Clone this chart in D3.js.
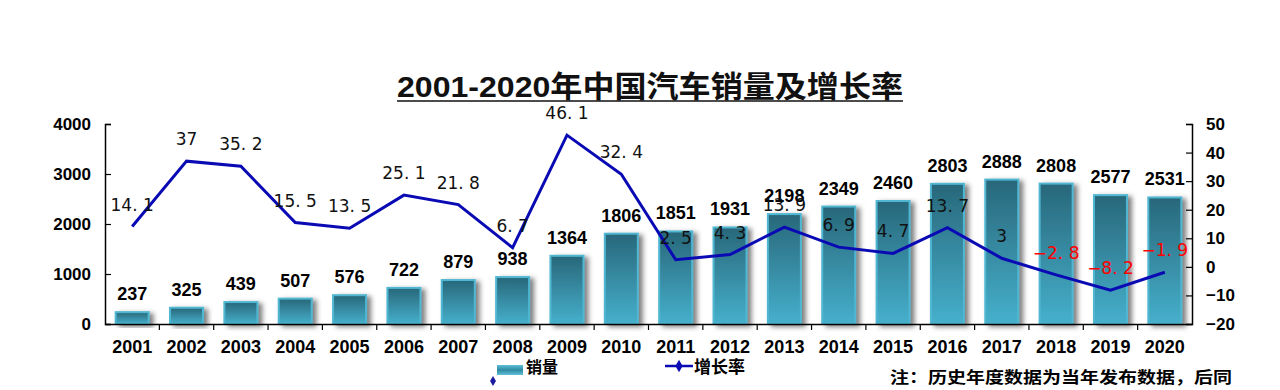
<!DOCTYPE html>
<html>
<head>
<meta charset="utf-8">
<script src="https://cdn.jsdelivr.net/npm/d3@7"></script>
<style>
  body { margin: 0; background: #fff; }
  svg { display: block; }
  .bold { font-family: Arial, "Liberation Sans", "Noto Sans CJK SC", sans-serif; font-weight: bold; }
</style>
</head>
<body>
<div id="chart"></div>
<script>
var years = ['2001','2002','2003','2004','2005','2006','2007','2008','2009','2010',
             '2011','2012','2013','2014','2015','2016','2017','2018','2019','2020'];
var sales = [237, 325, 439, 507, 576, 722, 879, 938, 1364, 1806,
             1851, 1931, 2198, 2349, 2460, 2803, 2888, 2808, 2577, 2531];
var growth = [14.1, 37, 35.2, 15.5, 13.5, 25.1, 21.8, 6.7, 46.1, 32.4,
              2.5, 4.3, 13.9, 6.9, 4.7, 13.7, 3, -2.8, -8.2, -1.9];
var leftTicks = [0, 1000, 2000, 3000, 4000];
var rightTicks = [-20, -10, 0, 10, 20, 30, 40, 50];

var width = 1280, height = 390,
    margin = {top: 124, right: 88, bottom: 66, left: 105};

var svg = d3.select('#chart').append('svg')
    .attr('width', width)
    .attr('height', height);

var defs = svg.append('defs');
var grad = defs.append('linearGradient')
    .attr('id', 'bar-grad')
    .attr('x1', 0).attr('y1', 0).attr('x2', 0).attr('y2', 1);
grad.append('stop').attr('offset', 0).attr('stop-color', '#28677a');
grad.append('stop').attr('offset', 1).attr('stop-color', '#46b0cc');

var lgrad = defs.append('linearGradient')
    .attr('id', 'leg-grad')
    .attr('x1', 0).attr('y1', 0).attr('x2', 0).attr('y2', 1);
lgrad.append('stop').attr('offset', 0).attr('stop-color', '#5fc0d8');
lgrad.append('stop').attr('offset', 0.5).attr('stop-color', '#2f8aa2');
lgrad.append('stop').attr('offset', 1).attr('stop-color', '#5fc0d8');

var shadow = defs.append('filter').attr('id', 'shadow')
    .attr('x', '-30%').attr('y', '-30%').attr('width', '160%').attr('height', '160%');
shadow.append('feDropShadow')
    .attr('dx', 4).attr('dy', 2).attr('stdDeviation', 2.5)
    .attr('flood-color', '#555').attr('flood-opacity', 0.75);

var x = d3.scaleBand()
    .domain(years)
    .range([margin.left, width - margin.right]);

var yL = d3.scaleLinear()
    .domain([0, 4000])
    .range([height - margin.bottom, margin.top]);

var yR = d3.scaleLinear()
    .domain([-20, 50])
    .range([height - margin.bottom, margin.top]);

// title
svg.append('text')
    .attr('class', 'bold')
    .attr('x', 650).attr('y', 97)
    .attr('text-anchor', 'middle')
    .attr('font-size', 30)
    .attr('textLength', 506)
    .attr('lengthAdjust', 'spacingAndGlyphs')
    .attr('fill', '#111')
    .text('2001-2020年中国汽车销量及增长率');
svg.append('line')
    .attr('x1', 397).attr('x2', 903)
    .attr('y1', 101).attr('y2', 101)
    .attr('stroke', '#111').attr('stroke-width', 1.5);

// bars
var barW = 33;
svg.append('g').selectAll('rect')
  .data(sales)
  .enter().append('rect')
    .attr('x', function(d, i) { return x(years[i]) + x.bandwidth() / 2 - barW / 2; })
    .attr('y', function(d) { return yL(d); })
    .attr('width', barW)
    .attr('height', function(d) { return yL(0) - yL(d); })
    .attr('fill', 'url(#bar-grad)')
    .attr('stroke', '#50b7d2')
    .attr('stroke-width', 2)
    .attr('filter', 'url(#shadow)');

// axes
var axisL = svg.append('g')
    .attr('transform', 'translate(' + margin.left + ',0)')
    .call(d3.axisLeft(yL).tickValues(leftTicks).tickFormat(d3.format('d')).tickSize(-6).tickPadding(14));
var axisR = svg.append('g')
    .attr('transform', 'translate(' + (width - margin.right) + ',0)')
    .call(d3.axisRight(yR).tickValues(rightTicks).tickFormat(d3.format('d')).tickSize(-6).tickPadding(14));
var axisB = svg.append('g')
    .attr('transform', 'translate(0,' + yL(0) + ')')
    .call(d3.axisBottom(x).tickSize(0).tickPadding(16));

[axisL, axisR, axisB].forEach(function(a) {
  a.select('.domain').attr('stroke', '#000').attr('stroke-width', 1.5);
  a.selectAll('.tick line').attr('stroke', '#000').attr('stroke-width', 1.2);
  a.selectAll('text')
    .attr('class', 'bold')
    .attr('font-size', 17)
    .attr('fill', '#000');
});
axisB.selectAll('text')
    .attr('font-family', '"Liberation Sans Narrow", Arial, sans-serif')
    .attr('font-size', 18);

// band boundary ticks on x axis
axisB.selectAll('.sep')
  .data(years.slice(1))
  .enter().append('line')
    .attr('x1', function(d) { return x(d); })
    .attr('x2', function(d) { return x(d); })
    .attr('y1', 0).attr('y2', 6)
    .attr('stroke', '#000').attr('stroke-width', 1.2);

// sales labels
svg.append('g').selectAll('text')
  .data(sales)
  .enter().append('text')
    .attr('class', 'bold')
    .attr('x', function(d, i) { return x(years[i]) + x.bandwidth() / 2; })
    .attr('y', function(d) { return yL(d) - 12; })
    .attr('text-anchor', 'middle')
    .attr('font-size', 18)
    .attr('fill', '#000')
    .text(function(d) { return d; });

// growth line
var line = d3.line()
    .x(function(d, i) { return x(years[i]) + x.bandwidth() / 2; })
    .y(function(d) { return yR(d); });

svg.append('path')
    .datum(growth)
    .attr('d', line)
    .attr('fill', 'none')
    .attr('stroke', '#0a0ab4')
    .attr('stroke-width', 3);

// growth labels
svg.append('g').selectAll('text')
  .data(growth)
  .enter().append('text')
    .attr('x', function(d, i) { return x(years[i]) + x.bandwidth() / 2; })
    .attr('y', function(d) { return yR(d) - 16; })
    .attr('text-anchor', 'middle')
    .attr('font-family', '"DejaVu Sans", sans-serif')
    .attr('font-size', 17)
    .attr('fill', function(d) { return d < 0 ? '#ff0000' : '#111'; })
    .text(function(d) {
      return String(d).replace('-', '−').replace('.', '. ');
    });

// legend
var lg = svg.append('g');
lg.append('rect')
    .attr('x', 497).attr('y', 365).attr('width', 26).attr('height', 10)
    .attr('fill', 'url(#leg-grad)');
lg.append('path')
    .attr('d', d3.symbol().type(d3.symbolDiamond).size(30))
    .attr('transform', 'translate(493,381)')
    .attr('fill', '#1a1aa0');
lg.append('text')
    .attr('class', 'bold')
    .attr('x', 526).attr('y', 373)
    .attr('font-size', 16)
    .text('销量');
lg.append('line')
    .attr('x1', 665).attr('x2', 693).attr('y1', 366).attr('y2', 366)
    .attr('stroke', '#0a0ab4').attr('stroke-width', 2.5);
lg.append('path')
    .attr('d', d3.symbol().type(d3.symbolDiamond).size(44))
    .attr('transform', 'translate(679,366)')
    .attr('fill', '#0a0ab4');
lg.append('text')
    .attr('class', 'bold')
    .attr('x', 694).attr('y', 373)
    .attr('font-size', 17)
    .text('增长率');

svg.append('text')
    .attr('x', 890).attr('y', 383)
    .attr('font-family', '"Noto Sans CJK SC", sans-serif')
    .attr('font-weight', 'bold')
    .attr('font-size', 16)
    .attr('textLength', 342)
    .attr('lengthAdjust', 'spacingAndGlyphs')
    .text('注：历史年度数据为当年发布数据，后同');
</script>
</body>
</html>
